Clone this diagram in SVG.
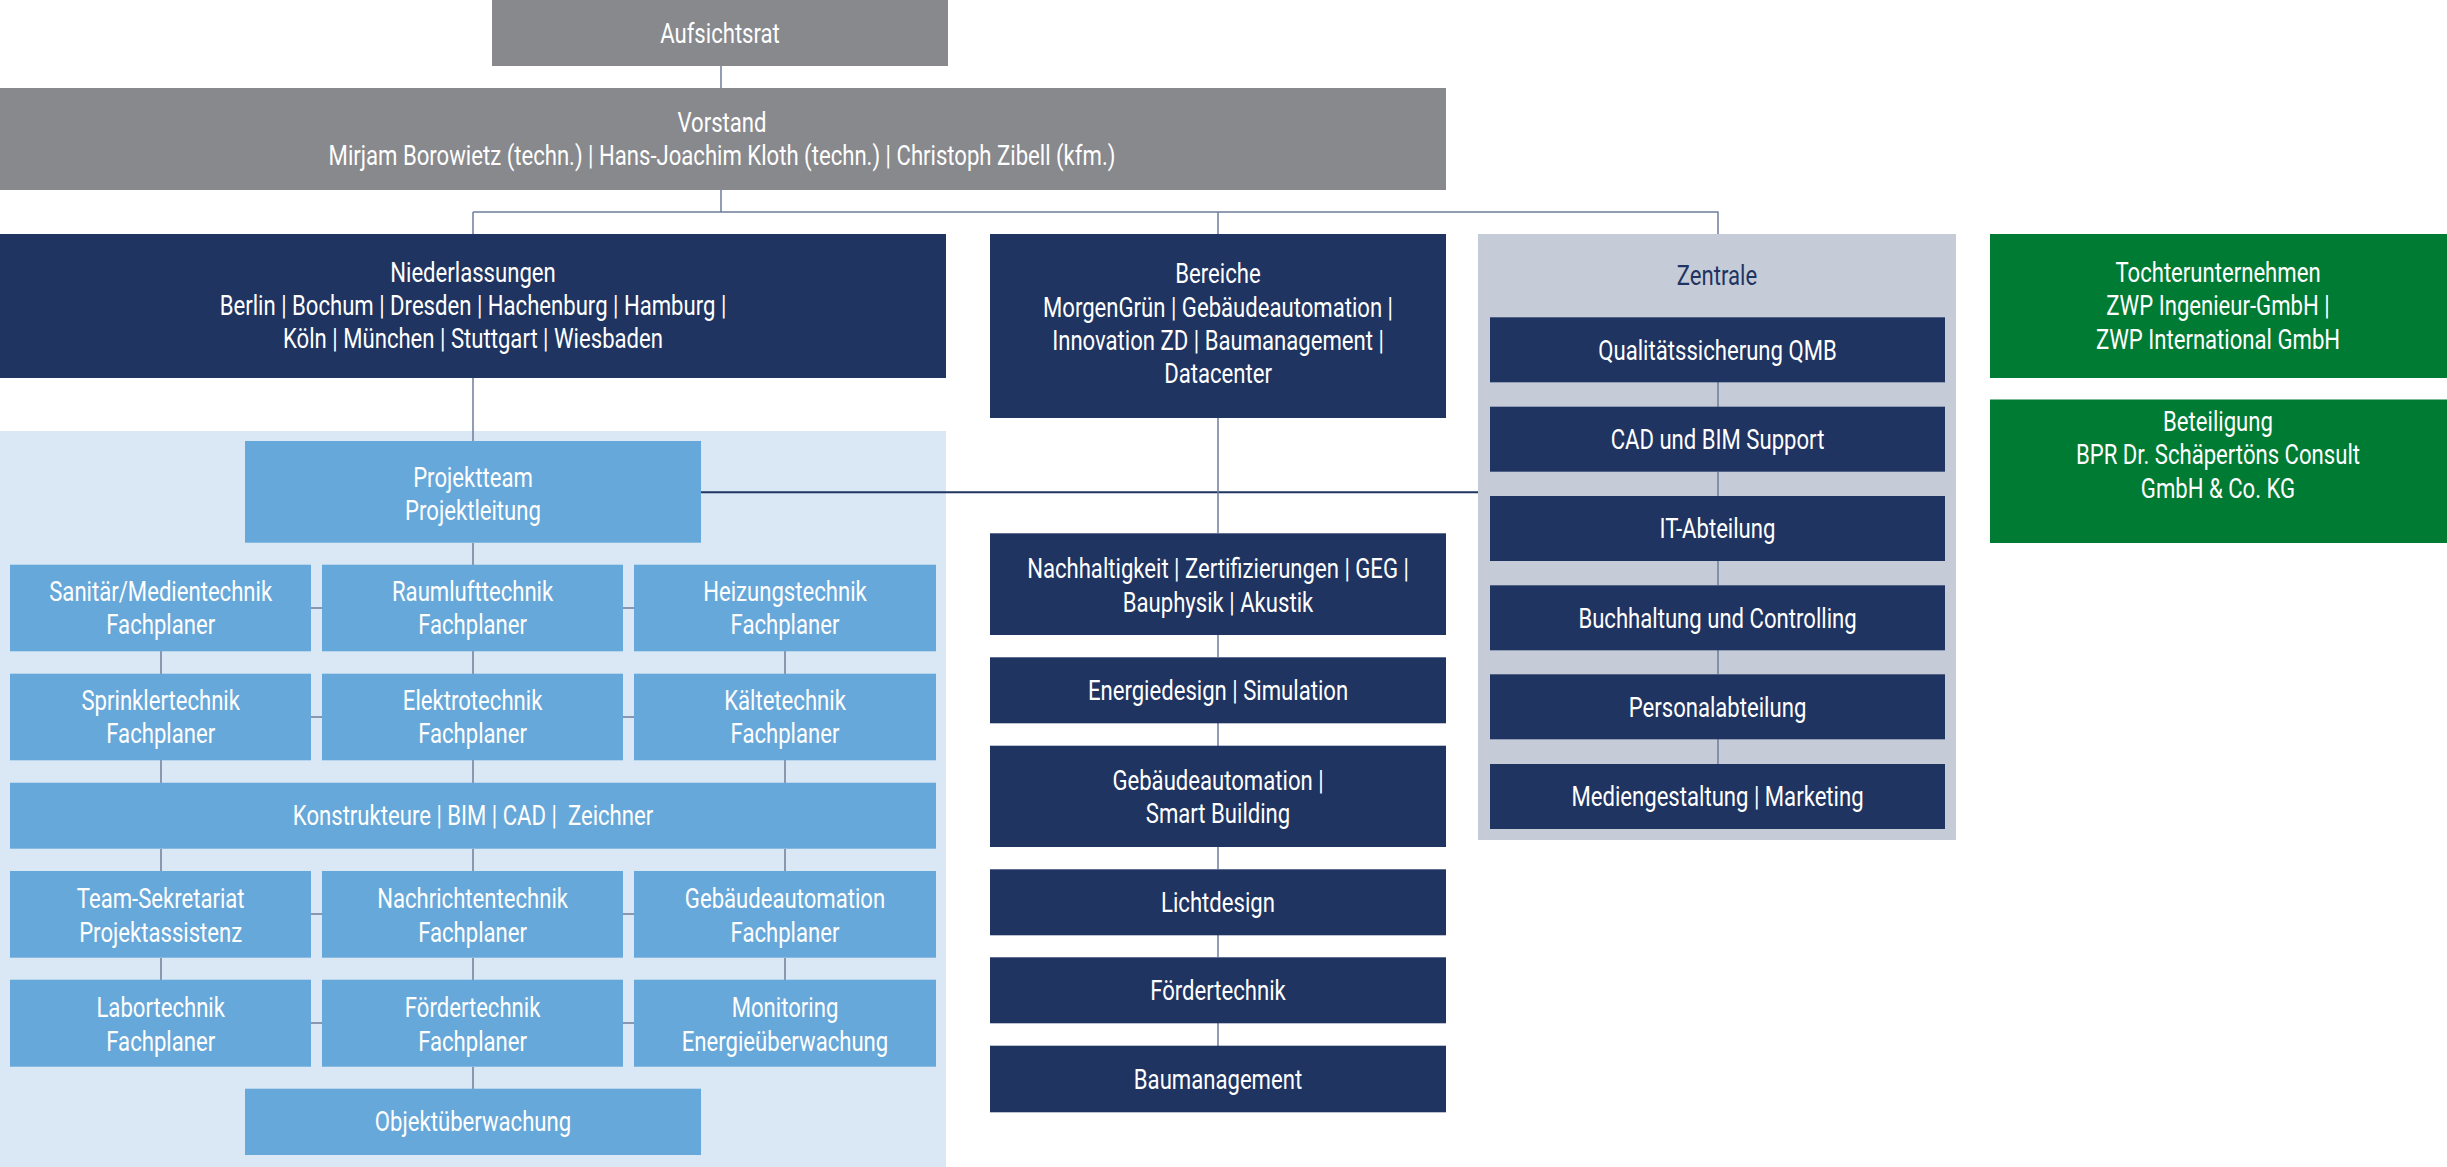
<svg xmlns="http://www.w3.org/2000/svg" width="2447" height="1167" viewBox="0 0 2447 1167">
<style>
.t{font-family:Roboto,"Liberation Sans",sans-serif;font-size:28px;fill:#ffffff;text-anchor:middle}
.tz{fill:#1f3461}
.grey{fill:#88898d}
.navy{fill:#1f3461}
.mid{fill:#67a8da}
.green{fill:#007b34}
.zbg{fill:#c5ccd8}
.lbg{fill:#dae8f5}
.c{stroke:#6d7d99;stroke-width:1.5;fill:none}
.cn{stroke:#1f3461;stroke-width:2;fill:none}
</style>
<rect id="bg-projekt" class="lbg" x="0" y="431" width="946" height="736"/>
<rect id="bg-zentrale" class="zbg" x="1478" y="234" width="478" height="606"/>
<g id="connectors">
<path class="c" d="M721 66V88M721 190V212M473 212H1718.5M473 212V234M1218 212V234M1718 212V234"/>
<path class="c" d="M473 378V441M473 543V565"/>
<path class="cn" d="M701 492.3H1478"/>
<path class="c" d="M1218 418V533M1218 635V657M1218 723V746M1218 847V869M1218 935V957M1218 1023V1046"/>
<path class="c" d="M1718 382V407M1718 472V496M1718 561V585M1718 650V674M1718 739V764"/>
<path class="c" d="M161 651V674M473 651V674M785 651V674M161 760V783M473 760V783M785 760V783M161 849V871M473 849V871M785 849V871M161 958V980M473 958V980M785 958V980M473 1067V1089"/>
<path class="c" d="M311 608H322M623 608H634M311 717H322M623 717H634M311 914H322M623 914H634M311 1023H322M623 1023H634"/>
</g>
<g id="aufsichtsrat"><rect class="grey" x="492" y="0" width="456" height="66"/>
<text class="t" transform="translate(720 0) scale(0.79 1)" x="0" y="43">Aufsichtsrat</text></g>
<g id="vorstand"><rect class="grey" x="0" y="88" width="1446" height="102"/>
<text class="t" transform="translate(722 0) scale(0.79 1)"><tspan x="0" y="132">Vorstand</tspan><tspan x="0" y="165.5">Mirjam Borowietz (techn.) | Hans-Joachim Kloth (techn.) | Christoph Zibell (kfm.)</tspan></text></g>
<g id="niederlassungen"><rect class="navy" x="0" y="234" width="946" height="144"/>
<text class="t" transform="translate(473 0) scale(0.79 1)"><tspan x="0" y="281.7">Niederlassungen</tspan><tspan x="0" y="315">Berlin | Bochum | Dresden | Hachenburg | Hamburg |</tspan><tspan x="0" y="348.3">Köln | München | Stuttgart | Wiesbaden</tspan></text></g>
<g id="bereiche"><rect class="navy" x="990" y="234" width="456" height="184"/>
<text class="t" transform="translate(1218 0) scale(0.79 1)"><tspan x="0" y="283.3">Bereiche</tspan><tspan x="0" y="316.7">MorgenGrün | Gebäudeautomation |</tspan><tspan x="0" y="350">Innovation ZD | Baumanagement |</tspan><tspan x="0" y="383.3">Datacenter</tspan></text></g>
<g id="zentrale"><text class="t tz" transform="translate(1717 0) scale(0.79 1)" x="0" y="285">Zentrale</text></g>
<g id="tochter"><rect class="green" x="1990" y="234" width="457" height="144"/>
<text class="t" transform="translate(2218 0) scale(0.79 1)"><tspan x="0" y="282">Tochterunternehmen</tspan><tspan x="0" y="315.5">ZWP Ingenieur-GmbH |</tspan><tspan x="0" y="349">ZWP International GmbH</tspan></text></g>
<g id="beteiligung"><rect class="green" x="1990" y="399.5" width="457" height="143.5"/>
<text class="t" transform="translate(2218 0) scale(0.79 1)"><tspan x="0" y="431">Beteiligung</tspan><tspan x="0" y="464.5">BPR Dr. Schäpertöns Consult</tspan><tspan x="0" y="498">GmbH &amp; Co. KG</tspan></text></g>
<g id="z-qmb"><rect class="navy" x="1490" y="317.3" width="455" height="65"/><text class="t" transform="translate(1717.5 0) scale(0.79 1)" x="0" y="359.8">Qualitätssicherung QMB</text></g>
<g id="z-cad"><rect class="navy" x="1490" y="406.7" width="455" height="65"/><text class="t" transform="translate(1717.5 0) scale(0.79 1)" x="0" y="449.2">CAD und BIM Support</text></g>
<g id="z-it"><rect class="navy" x="1490" y="496" width="455" height="65"/><text class="t" transform="translate(1717.5 0) scale(0.79 1)" x="0" y="538.5">IT-Abteilung</text></g>
<g id="z-buch"><rect class="navy" x="1490" y="585.3" width="455" height="65"/><text class="t" transform="translate(1717.5 0) scale(0.79 1)" x="0" y="627.8">Buchhaltung und Controlling</text></g>
<g id="z-personal"><rect class="navy" x="1490" y="674.3" width="455" height="65"/><text class="t" transform="translate(1717.5 0) scale(0.79 1)" x="0" y="716.8">Personalabteilung</text></g>
<g id="z-medien"><rect class="navy" x="1490" y="764" width="455" height="65"/><text class="t" transform="translate(1717.5 0) scale(0.79 1)" x="0" y="806.5">Mediengestaltung | Marketing</text></g>
<g id="b-nachhaltigkeit"><rect class="navy" x="990" y="533.3" width="456" height="101.7"/><text class="t" transform="translate(1218 0) scale(0.79 1)"><tspan x="0" y="578.3">Nachhaltigkeit | Zertifizierungen | GEG |</tspan><tspan x="0" y="611.7">Bauphysik | Akustik</tspan></text></g>
<g id="b-energie"><rect class="navy" x="990" y="657.3" width="456" height="66"/><text class="t" transform="translate(1218 0) scale(0.79 1)" x="0" y="700">Energiedesign | Simulation</text></g>
<g id="b-gebaeude"><rect class="navy" x="990" y="745.7" width="456" height="101.3"/><text class="t" transform="translate(1218 0) scale(0.79 1)"><tspan x="0" y="790">Gebäudeautomation |</tspan><tspan x="0" y="823.3">Smart Building</tspan></text></g>
<g id="b-licht"><rect class="navy" x="990" y="869.3" width="456" height="66"/><text class="t" transform="translate(1218 0) scale(0.79 1)" x="0" y="912">Lichtdesign</text></g>
<g id="b-foerder"><rect class="navy" x="990" y="957.3" width="456" height="66"/><text class="t" transform="translate(1218 0) scale(0.79 1)" x="0" y="1000">Fördertechnik</text></g>
<g id="b-bau"><rect class="navy" x="990" y="1045.7" width="456" height="66.6"/><text class="t" transform="translate(1218 0) scale(0.79 1)" x="0" y="1089">Baumanagement</text></g>
<g id="projektteam"><rect class="mid" x="245" y="441" width="456" height="101.7"/><text class="t" transform="translate(473 0) scale(0.79 1)"><tspan x="0" y="487.3">Projektteam</tspan><tspan x="0" y="520">Projektleitung</tspan></text></g>
<g id="sanitaer"><rect class="mid" x="10" y="564.7" width="301" height="86.6"/><text class="t" transform="translate(160.7 0) scale(0.79 1)"><tspan x="0" y="601">Sanitär/Medientechnik</tspan><tspan x="0" y="634.3">Fachplaner</tspan></text></g>
<g id="raumluft"><rect class="mid" x="322" y="564.7" width="301" height="86.6"/><text class="t" transform="translate(472.6 0) scale(0.79 1)"><tspan x="0" y="601">Raumlufttechnik</tspan><tspan x="0" y="634.3">Fachplaner</tspan></text></g>
<g id="heizung"><rect class="mid" x="634" y="564.7" width="302" height="86.6"/><text class="t" transform="translate(785 0) scale(0.79 1)"><tspan x="0" y="601">Heizungstechnik</tspan><tspan x="0" y="634.3">Fachplaner</tspan></text></g>
<g id="sprinkler"><rect class="mid" x="10" y="673.7" width="301" height="86.6"/><text class="t" transform="translate(160.7 0) scale(0.79 1)"><tspan x="0" y="710">Sprinklertechnik</tspan><tspan x="0" y="743.3">Fachplaner</tspan></text></g>
<g id="elektro"><rect class="mid" x="322" y="673.7" width="301" height="86.6"/><text class="t" transform="translate(472.6 0) scale(0.79 1)"><tspan x="0" y="710">Elektrotechnik</tspan><tspan x="0" y="743.3">Fachplaner</tspan></text></g>
<g id="kaelte"><rect class="mid" x="634" y="673.7" width="302" height="86.6"/><text class="t" transform="translate(785 0) scale(0.79 1)"><tspan x="0" y="710">Kältetechnik</tspan><tspan x="0" y="743.3">Fachplaner</tspan></text></g>
<g id="konstrukteure"><rect class="mid" x="10" y="782.7" width="926" height="66"/><text class="t" transform="translate(473 0) scale(0.79 1)" x="0" y="825" xml:space="preserve">Konstrukteure | BIM | CAD |  Zeichner</text></g>
<g id="sekretariat"><rect class="mid" x="10" y="871" width="301" height="86.7"/><text class="t" transform="translate(160.7 0) scale(0.79 1)"><tspan x="0" y="908.3">Team-Sekretariat</tspan><tspan x="0" y="941.7">Projektassistenz</tspan></text></g>
<g id="nachrichten"><rect class="mid" x="322" y="871" width="301" height="86.7"/><text class="t" transform="translate(472.6 0) scale(0.79 1)"><tspan x="0" y="908.3">Nachrichtentechnik</tspan><tspan x="0" y="941.7">Fachplaner</tspan></text></g>
<g id="gebaeudeautomation"><rect class="mid" x="634" y="871" width="302" height="86.7"/><text class="t" transform="translate(785 0) scale(0.79 1)"><tspan x="0" y="908.3">Gebäudeautomation</tspan><tspan x="0" y="941.7">Fachplaner</tspan></text></g>
<g id="labor"><rect class="mid" x="10" y="979.7" width="301" height="87"/><text class="t" transform="translate(160.7 0) scale(0.79 1)"><tspan x="0" y="1017.3">Labortechnik</tspan><tspan x="0" y="1050.7">Fachplaner</tspan></text></g>
<g id="foerdertechnik"><rect class="mid" x="322" y="979.7" width="301" height="87"/><text class="t" transform="translate(472.6 0) scale(0.79 1)"><tspan x="0" y="1017.3">Fördertechnik</tspan><tspan x="0" y="1050.7">Fachplaner</tspan></text></g>
<g id="monitoring"><rect class="mid" x="634" y="979.7" width="302" height="87"/><text class="t" transform="translate(785 0) scale(0.79 1)"><tspan x="0" y="1017.3">Monitoring</tspan><tspan x="0" y="1050.7">Energieüberwachung</tspan></text></g>
<g id="objekt"><rect class="mid" x="245" y="1088.7" width="456" height="66.3"/><text class="t" transform="translate(473 0) scale(0.79 1)" x="0" y="1130.7">Objektüberwachung</text></g>
</svg>
